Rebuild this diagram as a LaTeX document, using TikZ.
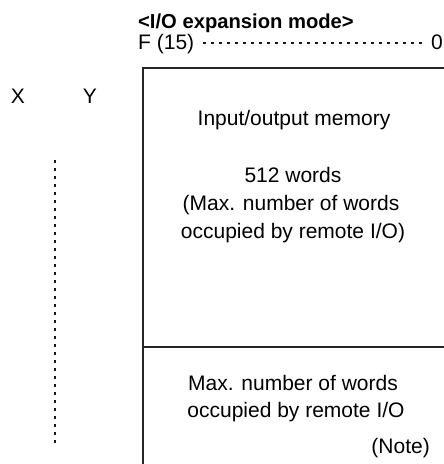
\documentclass[tikz,border=0pt]{standalone}
\usepackage{fontspec}
\setmainfont{Liberation Sans}
\begin{document}
\begin{tikzpicture}[x=1pt,y=-1pt,
  lbl/.style={font=\fontsize{21}{28}\selectfont, inner sep=0pt, anchor=base},
  frame/.style={line width=1.4pt, black!85},
  dotline/.style={line width=2.7pt, dash pattern=on 2.6pt off 5.4pt, black!90}]
  \useasboundingbox (0,0) rectangle (444,464);

  % heading and bit range
  \node[lbl, anchor=base west, font=\fontsize{20.2}{24}\selectfont\bfseries] (head) at (138,28) {<I/O expansion mode>};
  \node[lbl, anchor=base west] (f15) at (138,49) {F (15)};
  \node[lbl, anchor=base east] (zero) at (443,49) {0};
  \draw[dotline] ([xshift=9pt,yshift=6pt]f15.base east) -- ([xshift=-4pt,yshift=6pt]zero.base west);

  % register labels
  \node[lbl] (x) at (18,103) {X};
  \node[lbl] (y) at (90,103) {Y};
  \coordinate (vtop) at (55,160);
  \coordinate (vbot) at (55,443);
  \draw[dotline] (vtop) -- (vbot);

  % memory frame (continues past the right and bottom edges)
  \coordinate (tl) at (143,68);
  \coordinate (tr) at (445,68);
  \coordinate (bl) at (143,465);
  \coordinate (dl) at (143,347);
  \coordinate (dr) at (445,347);
  \draw[frame] (bl) -- (tl) -- (tr);
  \draw[frame] (dl) -- (dr);

  % upper area
  \node[lbl] (iom) at (294,125) {Input/output memory};
  \node[lbl] (w512) at (293,182) {512 words};
  \node[lbl] (max1) at (291,210) {(Max. number of words};
  \node[lbl] (occ1) at (293,238) {occupied by remote I/O)};

  % lower area
  \node[lbl] (max2) at (293,390) {Max. number of words};
  \node[lbl] (occ2) at (296,417) {occupied by remote I/O};
  \node[lbl, anchor=base east] (note) at (430,453) {(Note)};
\end{tikzpicture}
\end{document}
